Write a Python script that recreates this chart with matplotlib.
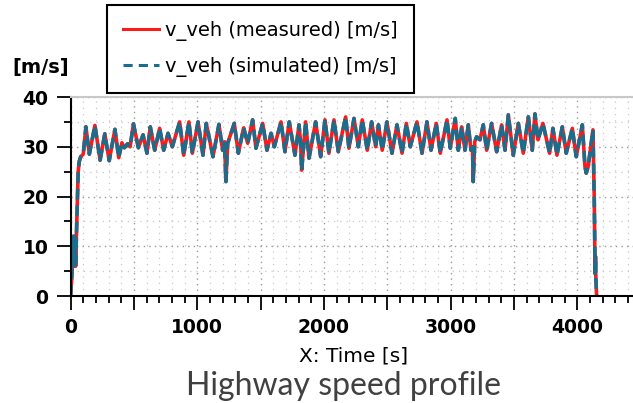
import matplotlib.pyplot as plt
from matplotlib.ticker import MultipleLocator
from matplotlib.lines import Line2D

# Highway speed profile
time_s = [0, 8, 18, 22, 28, 35, 40, 48, 60, 68, 80, 100, 121, 148, 192, 233,
          270, 305, 350, 380, 405, 425, 450, 470, 496, 535, 572, 603, 629,
          664, 703, 735, 769, 803, 861, 893, 934, 961, 1006, 1045, 1071, 1124,
          1171, 1200, 1215, 1226, 1240, 1292, 1324, 1366, 1398, 1437, 1463,
          1516, 1550, 1582, 1608, 1661, 1692, 1726, 1771, 1803, 1815, 1824,
          1855, 1882, 1934, 1974, 2008, 2039, 2079, 2113, 2171, 2197, 2237,
          2271, 2302, 2342, 2376, 2408, 2430, 2460, 2497, 2537, 2576, 2616,
          2650, 2681, 2734, 2774, 2813, 2845, 2886, 2918, 2971, 2997, 3036,
          3060, 3087, 3113, 3139, 3160, 3172, 3178, 3190, 3205, 3231, 3257,
          3284, 3323, 3363, 3402, 3429, 3455, 3494, 3534, 3573, 3613, 3644,
          3665, 3689, 3728, 3781, 3807, 3839, 3881, 3912, 3960, 3991, 4039,
          4060, 4070, 4085, 4123, 4133, 4137, 4140, 4143, 4146, 4152]
v_measured = [0, 3, 9, 12, 6, 12, 6, 14, 25, 27, 28, 28.5, 34, 28.5, 34.3, 27.3,
              32.6, 27.2, 33.5, 27.8, 30.8, 29.8, 30.6, 30, 34.6, 29.8, 32.4, 28.7, 34,
              29.3, 33.7, 29.3, 32.7, 30, 35, 28.3, 35, 28.7, 35, 28.3, 34.7, 28,
              34.5, 29.3, 31, 23, 30.7, 34.7, 28.7, 33.8, 30.7, 35.4, 29.7,
              34.7, 29.3, 32.7, 30, 35, 29, 35, 28.3, 34.4, 31, 25.3,
              35, 27.7, 35, 28, 35.4, 28.7, 35.4, 29, 36, 29.7, 35.7,
              30, 35.4, 29.3, 35, 30, 34.4, 29.3, 35, 28.7, 34.4, 28.7,
              34.7, 30, 35, 28.7, 35, 29.3, 34.7, 28.7, 35.4, 29.7, 35.7,
              29.3, 34, 29.3, 34.4, 29.3, 30, 23, 31, 32, 31.4, 34.4,
              29.3, 34.7, 29, 34.4, 29.3, 36.4, 28.3, 34.7, 28.7, 36, 29.3,
              36.6, 31.4, 34.7, 28.7, 33.7, 28.3, 34, 28.7, 33.7, 28, 34.4,
              26, 24.7, 26, 33.4, 20, 10.2, 4.5, 8, 3.5, 0]
v_simulated = list(v_measured)

x_ticks = [0, 500, 1000, 1500, 2000, 2500, 3000, 3500, 4000, 4500]
x_tick_labels = ["0", "", "1000", "", "2000", "", "3000", "", "4000", ""]
y_ticks = [0, 10, 20, 30, 40]

fig = plt.figure(figsize=(6.33, 4.03), dpi=100)
ax = fig.add_axes([0.1115, 0.2655, 0.9007, 0.4938])

ax.plot(time_s, v_measured, color="#ff1a1a", lw=2.6, solid_joinstyle="round")
ax.plot(time_s, v_simulated, color="#1a6d8c", lw=2.6, dashes=(3, 1.6))

ax.set_xlim(0, 4500)
ax.set_ylim(0, 40)
ax.set_xticks(x_ticks)
ax.set_xticklabels(x_tick_labels)
ax.set_yticks(y_ticks)
ax.xaxis.set_minor_locator(MultipleLocator(100))
ax.yaxis.set_minor_locator(MultipleLocator(5))

ax.grid(which="major", color="#9a9a9a", linestyle=(0, (1, 3)), linewidth=1.0)
ax.grid(which="minor", color="#c8c8c8", linestyle=(0, (1, 4)), linewidth=0.9)
ax.set_axisbelow(True)

ax.tick_params(which="major", direction="out", length=10, width=1.3,
               labelsize=13.5, pad=6)
ax.tick_params(which="minor", direction="out", length=5, width=1.3)
plt.setp(ax.get_xticklabels() + ax.get_yticklabels(), fontweight="bold")

for side in ["left", "bottom"]:
    ax.spines[side].set_linewidth(1.5)
    ax.spines[side].set_color("black")
ax.spines["top"].set_color("#c8c8c8")
ax.spines["top"].set_linewidth(1.5)
ax.spines["right"].set_visible(False)

fig.text(41 / 633, 1 - 67 / 403, "[m/s]", ha="center", va="center",
         fontsize=14, fontweight="bold")
fig.text(354 / 633, 1 - 356 / 403, "X: Time [s]", ha="center", va="center",
         fontsize=14.5)
fig.text(343 / 633, 1 - 386 / 403, "Highway speed profile", ha="center",
         va="center", fontsize=23, color="#404040", family="Lato")

handles = [Line2D([], [], color="#ff1a1a", lw=2.2),
           Line2D([], [], color="#1a6d8c", lw=2.2, dashes=(3, 2))]
leg = fig.legend(handles, ["v_veh (measured) [m/s]", "v_veh (simulated) [m/s]"],
                 loc="upper left", bbox_to_anchor=(107 / 633, 1 - 5 / 403),
                 borderaxespad=0, fontsize=14, frameon=True, fancybox=False,
                 edgecolor="black", framealpha=1, handlelength=1.85,
                 handletextpad=0.35, labelspacing=0.85, borderpad=0.8)
leg.get_frame().set_linewidth(1.5)

fig.savefig("out.png", dpi=100)
